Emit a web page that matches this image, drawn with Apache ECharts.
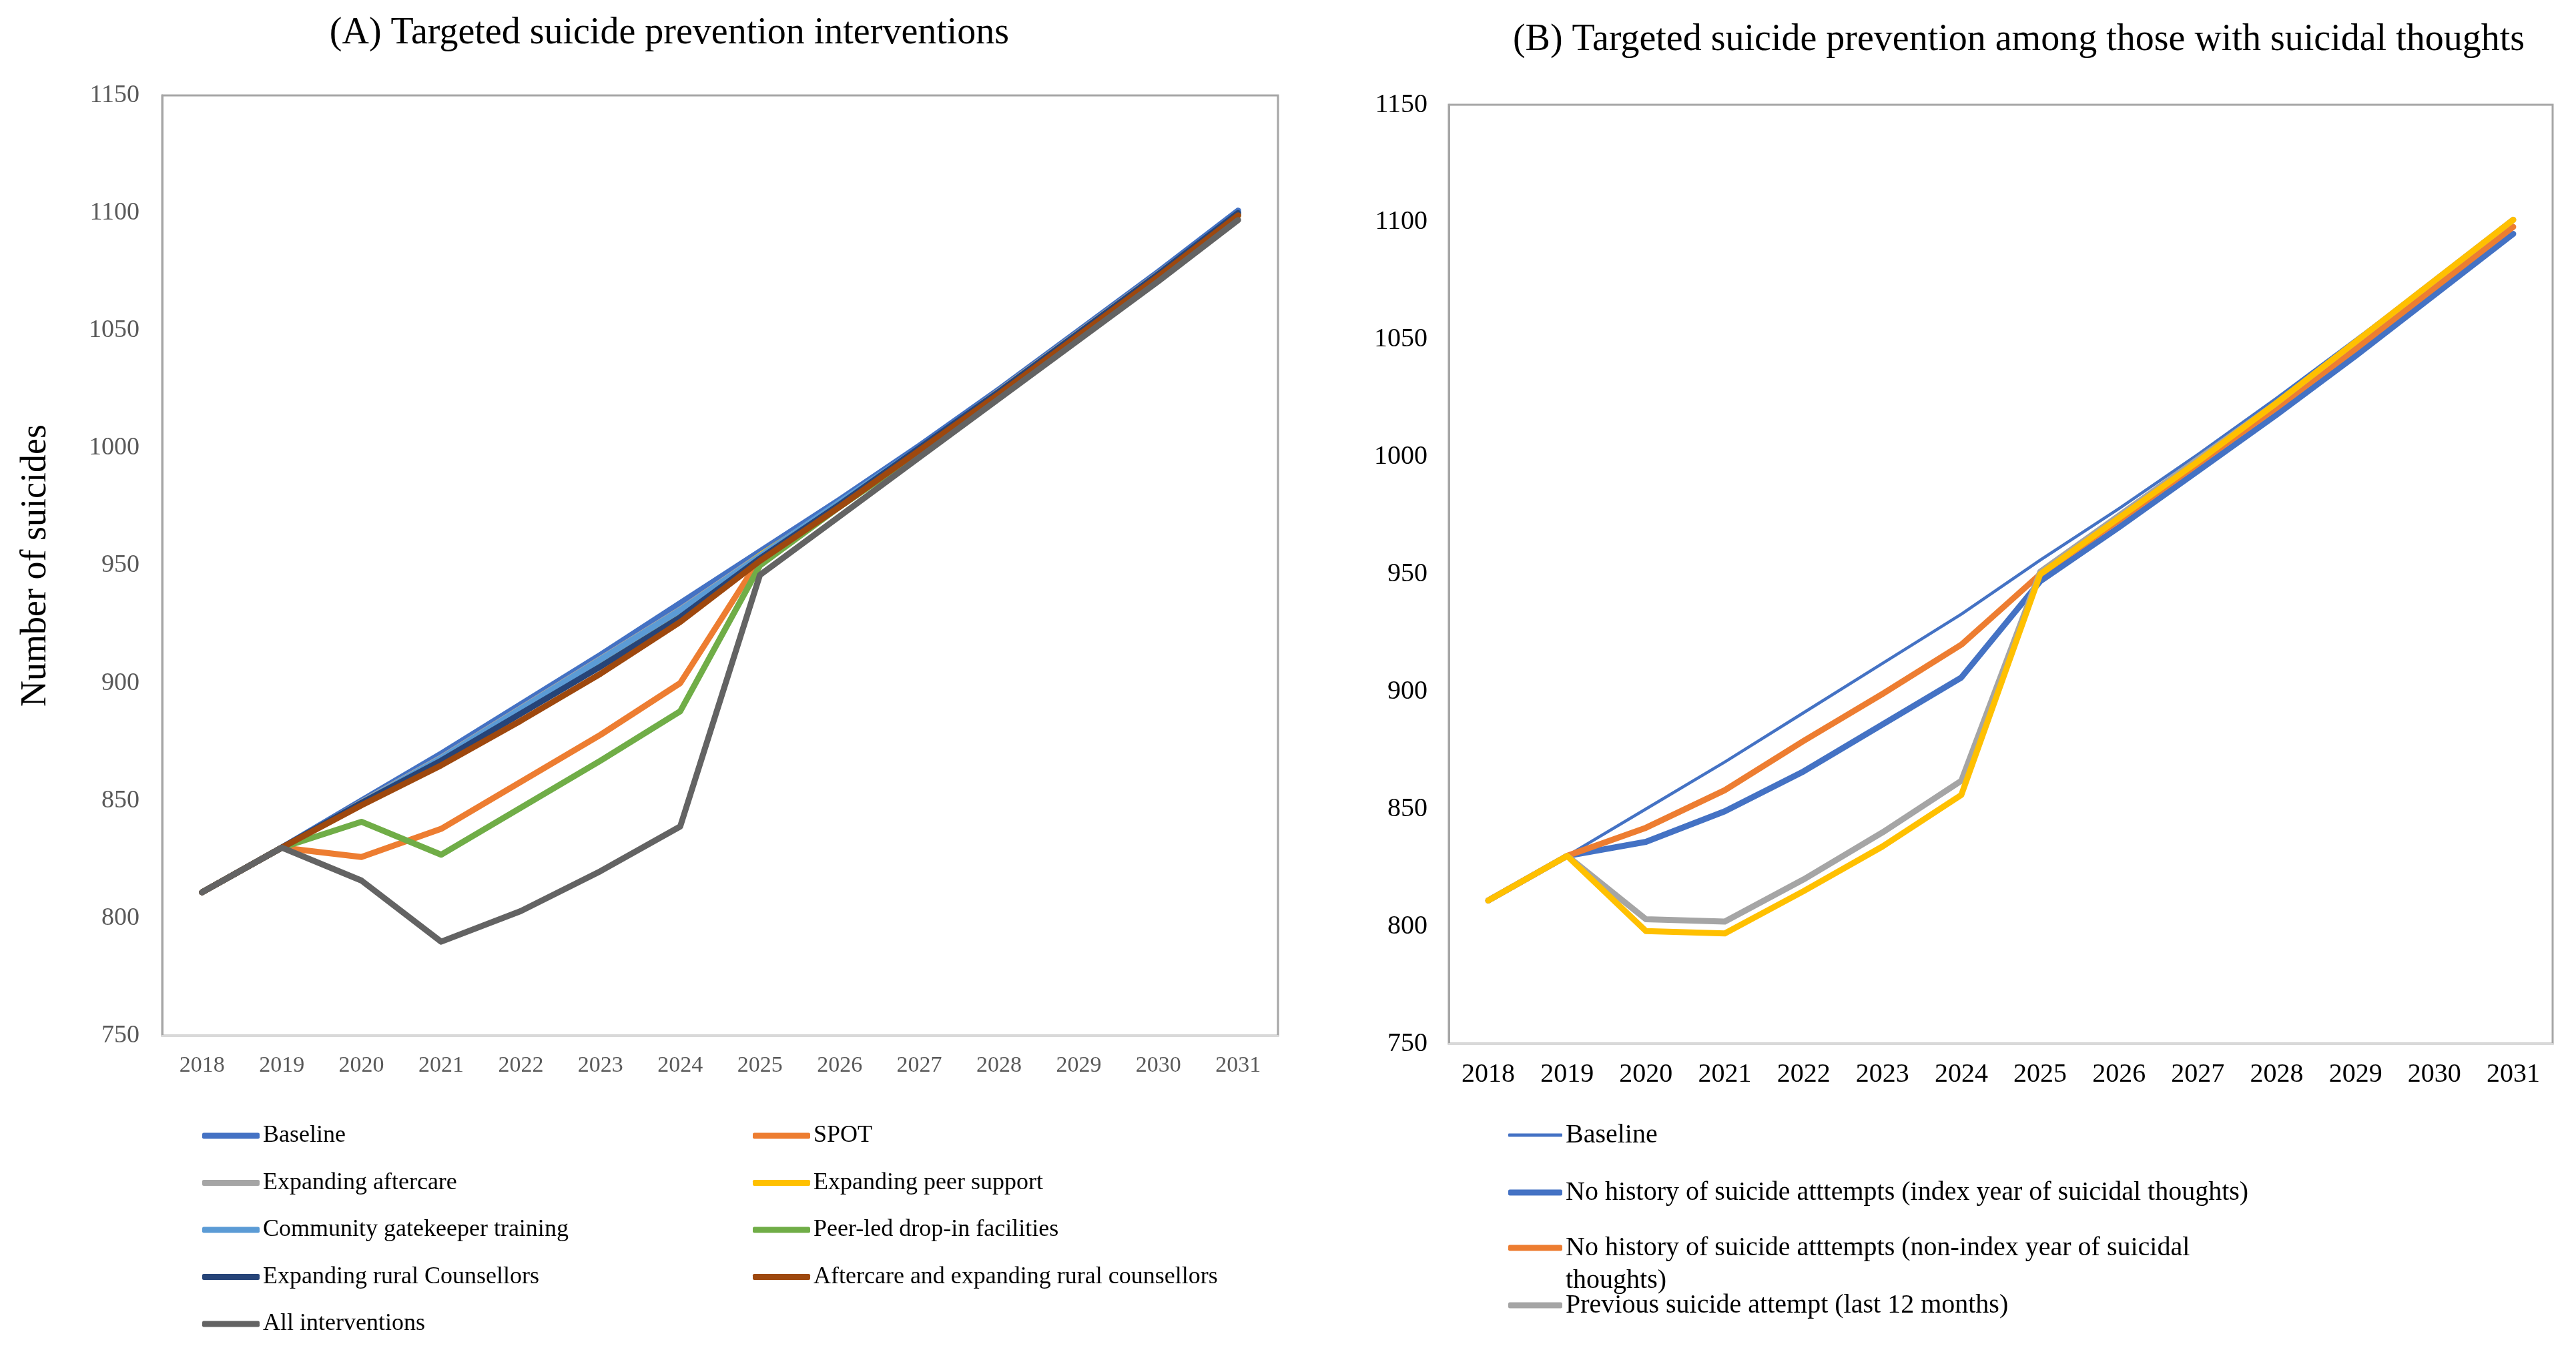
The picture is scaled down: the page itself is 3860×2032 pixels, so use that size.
<!DOCTYPE html>
<html>
<head>
<meta charset="utf-8">
<script src="https://cdn.jsdelivr.net/npm/echarts@6/dist/echarts.min.js"></script>
<style>
html,body{margin:0;padding:0;background:#fff;}
#c{width:3860px;height:2032px;}
</style>
</head>
<body>
<div id="c"></div>
<script>
// ---------- data ----------
const years = ['2018','2019','2020','2021','2022','2023','2024','2025','2026','2027','2028','2029','2030','2031'];

// Panel A
const aBaseline      = [811, 830, 850, 870, 891, 912, 934, 956, 978, 1001, 1025, 1050, 1075, 1101];
const aSpot          = [811, 830, 826, 838, 858, 878, 900, 953, 976, 999, 1023, 1048, 1073, 1099];
const aAftercare     = [811, 830, 850, 869, 890, 911, 932, 955, 977, 1000, 1025, 1050, 1075, 1100];
const aPeerSupport   = [811, 830, 849, 868, 889, 909, 930, 955, 977, 1000, 1024, 1049, 1074, 1100];
const aGatekeeper    = [811, 830, 849, 868, 889, 910, 931, 954, 977, 1000, 1024, 1049, 1074, 1100];
const aPeerLed       = [811, 830, 841, 827, 847, 867, 888, 950, 975, 998, 1023, 1048, 1073, 1099];
const aRural         = [811, 830, 849, 867, 887, 907, 928, 953, 976, 1000, 1024, 1049, 1074, 1100];
const aAfterRural    = [811, 830, 848, 865, 884, 904, 926, 952, 975, 999, 1023, 1048, 1073, 1099];
const aAll           = [811, 830, 816, 790, 803, 820, 839, 946, 971, 996, 1021, 1046, 1071, 1097];

// Panel B
const bBaseline      = [811, 830, 850, 870, 891, 912, 933, 956, 978, 1001, 1025, 1050, 1075, 1101];
const bNoHistIndex   = [811, 830, 836, 849, 866, 886, 906, 947, 970, 994, 1018, 1043, 1069, 1095];
const bNoHistNonIdx  = [811, 830, 842, 858, 879, 899, 920, 950, 973, 997, 1021, 1046, 1072, 1098];
const bPrevAttempt   = [811, 830, 803, 802, 820, 840, 862, 951, 975, 999, 1023, 1049, 1075, 1101];
const bUnlabelled    = [811, 830, 798, 797, 815, 834, 856, 950, 974, 998, 1023, 1049, 1075, 1101];

const namesA = ['Baseline','SPOT','Expanding aftercare','Expanding peer support','Community gatekeeper training','Peer-led drop-in facilities','Expanding rural Counsellors','Aftercare and expanding rural counsellors','All interventions'];
const namesB = ['Baseline ','No history of suicide atttempts (index year of suicidal thoughts)','No history of suicide atttempts (non-index year of suicidal thoughts)','Previous suicide attempt (last 12 months)','Other scenario'];

// ---------- chart ----------
const FONT = '"Liberation Serif", "Times New Roman", serif';
const colorsA = ['#4472C4','#ED7D31','#A5A5A5','#FFC000','#5B9BD5','#70AD47','#264478','#9E480E','#636363'];
const widthsA = [9,9,5,5,9,9,9,9,9];
const dataA = [aBaseline,aSpot,aAftercare,aPeerSupport,aGatekeeper,aPeerLed,aRural,aAfterRural,aAll];
const colorsB = ['#4472C4','#4472C4','#ED7D31','#A5A5A5','#FFC000'];
const widthsB = [4.5,9,9,9,9];
const dataB = [bBaseline,bNoHistIndex,bNoHistNonIdx,bPrevAttempt,bUnlabelled];

const series = [];
dataA.forEach((d,i)=>series.push({
  name:namesA[i], type:'line', xAxisIndex:0, yAxisIndex:0, data:d,
  symbol:'none', color:colorsA[i],
  lineStyle:{width:widthsA[i],color:colorsA[i],cap:'round',join:'round'}
}));
dataB.forEach((d,i)=>series.push({
  name:namesB[i], type:'line', xAxisIndex:1, yAxisIndex:1, data:d,
  symbol:'none', color:colorsB[i],
  lineStyle:{width:widthsB[i],color:colorsB[i],cap:'round',join:'round'}
}));

function yAxisCfg(grid, color, size, margin){
  return {type:'value', gridIndex:grid, min:750, max:1150, interval:50,
    axisLine:{show:true, lineStyle:{color:'#a6a6a6', width:3}},
    axisTick:{show:false}, splitLine:{show:false},
    axisLabel:{color:color, fontFamily:FONT, fontSize:size, margin:margin, formatter:(v)=>String(v)}};
}
function xAxisCfg(grid, color, size, margin){
  return {type:'category', gridIndex:grid, data:years, boundaryGap:true,
    axisLine:{show:true, lineStyle:{color:'#d9d9d9', width:3}},
    axisTick:{show:false}, splitLine:{show:false},
    axisLabel:{color:color, fontFamily:FONT, fontSize:size, margin:margin, interval:0}};
}

const legendText = {fontFamily:FONT, color:'#000'};
const legends = [
  {data:[namesA[0],namesA[2],namesA[4],namesA[6],namesA[8]], left:303, top:1682, orient:'vertical',
   itemWidth:86, itemHeight:9, itemGap:30.5, icon:'roundRect', padding:0,
   textStyle:Object.assign({fontSize:36, lineHeight:40}, legendText)},
  {data:[namesA[1],namesA[3],namesA[5],namesA[7]], left:1128, top:1682, orient:'vertical',
   itemWidth:86, itemHeight:9, itemGap:30.5, icon:'roundRect', padding:0,
   textStyle:Object.assign({fontSize:36, lineHeight:40}, legendText)}
];
const rowsB = [1701, 1787, 1870, 1956];
[0,1,2,3].forEach((k)=>{
  legends.push({data:[namesB[k]], left:2260, top:rowsB[k]-22, orient:'vertical',
    itemWidth:81, itemHeight:k===0?5:9, icon:'roundRect', padding:0,
    formatter: k===2 ? ()=> 'No history of suicide atttempts (non-index year of suicidal' : (n)=>n.trim(),
    textStyle:Object.assign({fontSize:40, lineHeight:44}, legendText)});
});
legends.push({data:[{name:namesB[2], icon:'none'}], left:2260, top:1919-22, orient:'vertical',
  itemWidth:81, itemHeight:9, padding:0, formatter:()=> 'thoughts)',
  textStyle:Object.assign({fontSize:40, lineHeight:44}, legendText)});

const option = {
  animation:false,
  backgroundColor:'#fff',
  title:[
    {text:'(A) Targeted suicide prevention interventions', left:1003, top:22, textAlign:'center', padding:0,
     textStyle:{fontFamily:FONT, fontSize:56, fontWeight:'normal', color:'#000'}},
    {text:'(B) Targeted suicide prevention among those with suicidal thoughts', left:3025, top:32, textAlign:'center', padding:0,
     textStyle:{fontFamily:FONT, fontSize:56, fontWeight:'normal', color:'#000'}}
  ],
  grid:[
    {left:243, right:1945, top:143, bottom:480, show:true, borderColor:'#a6a6a6', borderWidth:3, containLabel:false},
    {left:2171, right:35, top:157, bottom:468, show:true, borderColor:'#a6a6a6', borderWidth:3, containLabel:false}
  ],
  xAxis:[xAxisCfg(0,'#595959',34,28), xAxisCfg(1,'#000',40,26)],
  yAxis:[
    Object.assign(yAxisCfg(0,'#595959',38,34), {name:'Number of suicides', nameLocation:'middle', nameGap:162,
      nameTextStyle:{fontFamily:FONT, fontSize:54, color:'#000'}}),
    yAxisCfg(1,'#000',40,32)
  ],
  legend:legends,
  series:series
};

const chart = echarts.init(document.getElementById('c'), null, {renderer:'canvas'});
chart.setOption(option);
</script>
</body>
</html>
